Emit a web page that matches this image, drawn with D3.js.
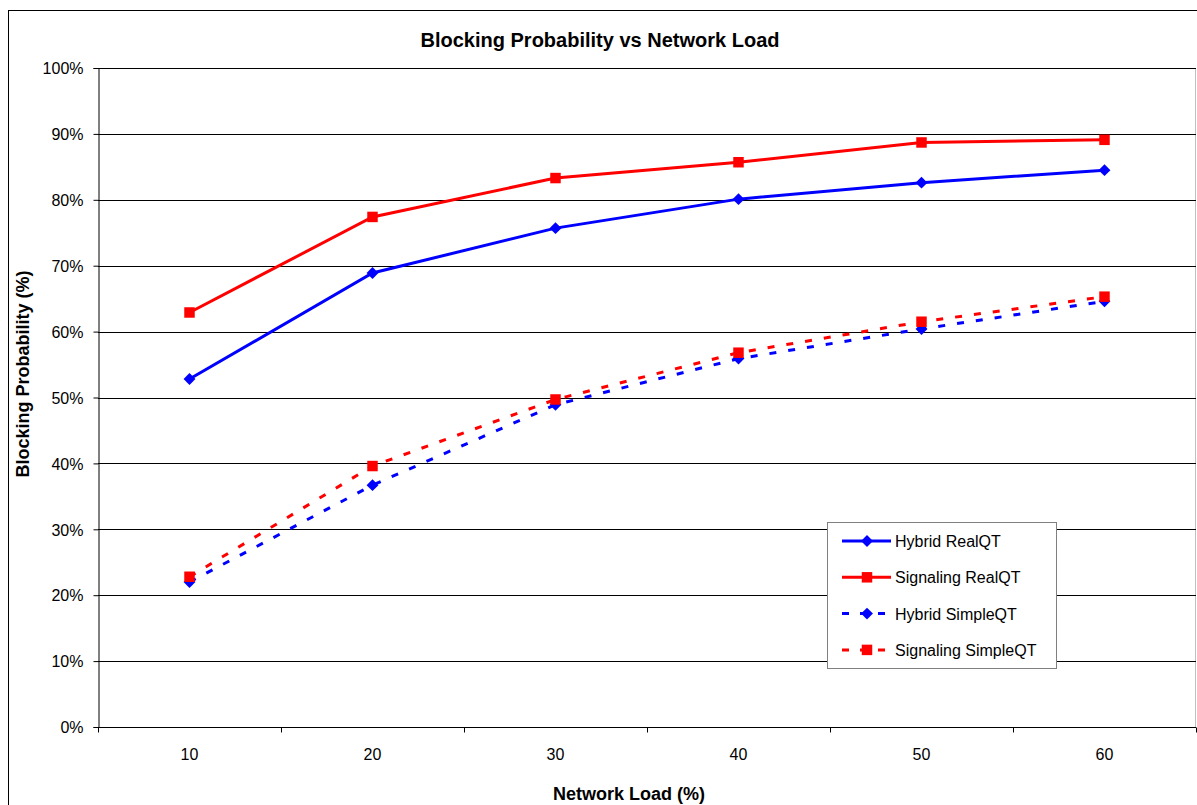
<!DOCTYPE html>
<html>
<head>
<meta charset="utf-8">
<script src="https://cdn.jsdelivr.net/npm/d3@7"></script>
<style>
  body { margin: 0; background: #fff; }
  svg text { font-family: "Liberation Sans", Arial, sans-serif; fill: #000; }
</style>
</head>
<body>
<div id="chart"></div>
<script>
// chart data
let loads = ["10", "20", "30", "40", "50", "60"];
let hybrid_real = [52.8, 68.9, 75.7, 80.1, 82.6, 84.5];
let signaling_real = [62.9, 77.4, 83.3, 85.7, 88.7, 89.1];
let hybrid_simple = [22.0, 36.7, 48.9, 55.9, 60.4, 64.6];
let signaling_simple = [22.8, 39.6, 49.7, 56.8, 61.5, 65.3];
let series_names = ["Hybrid RealQT", "Signaling RealQT", "Hybrid SimpleQT", "Signaling SimpleQT"];
let y_ticks = [0, 10, 20, 30, 40, 50, 60, 70, 80, 90, 100];

let series = [
    { name: series_names[0], values: hybrid_real, color: "#0000ff", dashed: false, marker: "diamond" },
    { name: series_names[1], values: signaling_real, color: "#ff0000", dashed: false, marker: "square" },
    { name: series_names[2], values: hybrid_simple, color: "#0000ff", dashed: true, marker: "diamond" },
    { name: series_names[3], values: signaling_simple, color: "#ff0000", dashed: true, marker: "square" }
];

let chart_width = 1197, chart_height = 805;
let margin_left = 98, margin_top = 68;
let width = 1098, height = 659;

let svg = d3.select("#chart").append("svg")
    .attr("width", chart_width)
    .attr("height", chart_height);

// outer chart frame
svg.append("rect")
    .attr("x", 8.5).attr("y", 10.5)
    .attr("width", 1200).attr("height", 820)
    .attr("fill", "white")
    .attr("stroke", "#000").attr("stroke-width", 1);

let g = svg.append("g")
    .attr("transform", "translate(" + margin_left + "," + margin_top + ")");

let xScale = d3.scaleBand().domain(loads).range([0, width]);
let yScale = d3.scaleLinear().domain([0, 100]).range([height, 0]);

// plot area right border (light)
g.append("line")
    .attr("x1", width - 0.5).attr("x2", width - 0.5)
    .attr("y1", 0).attr("y2", height)
    .attr("stroke", "#c0c0c0");

// gridlines
g.selectAll(".grid")
    .data(y_ticks.filter(d => d > 0))
    .enter().append("line")
    .attr("class", "grid")
    .attr("x1", 0).attr("x2", width)
    .attr("y1", d => Math.round(yScale(d)) + 0.5)
    .attr("y2", d => Math.round(yScale(d)) + 0.5)
    .attr("stroke", "#000").attr("stroke-width", 1);

// y axis
let y_axis = g.append("g")
    .attr("transform", "translate(0.5,0)")
    .call(d3.axisLeft(yScale).tickValues(y_ticks).tickSize(5).tickPadding(10)
        .tickFormat(d => d + "%"));
y_axis.selectAll("text").style("font-size", "16px").attr("dy", "0.36em");
y_axis.selectAll("line, path").attr("stroke", "#000");

// x axis, ticks on band edges
let x_axis = g.append("g")
    .attr("transform", "translate(0," + (height + 0.5) + ")");
x_axis.append("line")
    .attr("x1", 0).attr("x2", width)
    .attr("stroke", "#000");
let band_edges = loads.map(d => xScale(d)).concat([width]);
x_axis.selectAll(".xtick")
    .data(band_edges)
    .enter().append("line")
    .attr("class", "xtick")
    .attr("x1", d => Math.round(d) + 0.5).attr("x2", d => Math.round(d) + 0.5)
    .attr("y1", 0).attr("y2", 5)
    .attr("stroke", "#000");
x_axis.selectAll(".xlabel")
    .data(loads)
    .enter().append("text")
    .attr("x", d => xScale(d) + xScale.bandwidth() / 2)
    .attr("y", 32)
    .attr("text-anchor", "middle")
    .style("font-size", "16px")
    .text(d => d);

// lines
let line = d3.line()
    .x((d, i) => xScale(loads[i]) + xScale.bandwidth() / 2)
    .y(d => yScale(d));

let diamond = d3.symbol().type(d3.symbolDiamond2).size(90);
let square = d3.symbol().type(d3.symbolSquare).size(110);

series.forEach(function(s) {
    g.append("path")
        .datum(s.values)
        .attr("d", line)
        .attr("fill", "none")
        .attr("stroke", s.color)
        .attr("stroke-width", 3)
        .attr("stroke-dasharray", s.dashed ? "7,12" : null);
    g.selectAll(null)
        .data(s.values)
        .enter().append("path")
        .attr("d", s.marker === "diamond" ? diamond : square)
        .attr("transform", (d, i) => "translate(" + (xScale(loads[i]) + xScale.bandwidth() / 2) + "," + yScale(d) + ")")
        .attr("fill", s.color);
});

// title and axis titles
svg.append("text")
    .attr("x", 600).attr("y", 47)
    .attr("text-anchor", "middle")
    .style("font-size", "20px").style("font-weight", "bold")
    .text("Blocking Probability vs Network Load");

svg.append("text")
    .attr("transform", "translate(29,374) rotate(-90)")
    .attr("text-anchor", "middle")
    .style("font-size", "18px").style("font-weight", "bold")
    .text("Blocking Probability (%)");

svg.append("text")
    .attr("x", 629).attr("y", 800)
    .attr("text-anchor", "middle")
    .style("font-size", "18px").style("font-weight", "bold")
    .text("Network Load (%)");

// legend
let legend = svg.append("g").attr("transform", "translate(827,522)");
legend.append("rect")
    .attr("x", 0.5).attr("y", 0.5)
    .attr("width", 229).attr("height", 146)
    .attr("fill", "white")
    .attr("stroke", "#808080");

series.forEach(function(s, i) {
    let ly = 19 + i * 36.3;
    legend.append("line")
        .attr("x1", 15).attr("x2", 64)
        .attr("y1", ly).attr("y2", ly)
        .attr("stroke", s.color)
        .attr("stroke-width", 3)
        .attr("stroke-dasharray", s.dashed ? "7,11" : null);
    legend.append("path")
        .attr("d", s.marker === "diamond" ? diamond : square)
        .attr("transform", "translate(40," + ly + ")")
        .attr("fill", s.color);
    legend.append("text")
        .attr("x", 68).attr("y", ly + 6)
        .style("font-size", "16px")
        .text(s.name);
});
</script>
</body>
</html>
